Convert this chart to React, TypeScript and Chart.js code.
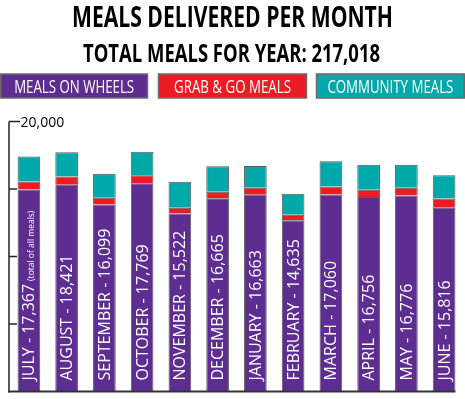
import React, { useEffect, useRef } from "react";
import { Chart, registerables } from "chart.js";

Chart.register(...registerables);

const TITLE = "MEALS DELIVERED PER MONTH";
const SUBTITLE = "TOTAL MEALS FOR YEAR: 217,018";
const SERIES_NAMES = ["MEALS ON WHEELS", "GRAB & GO MEALS", "COMMUNITY MEALS"];
const SERIES_COLORS = ["#5E2D91", "#ED1C24", "#00A9A9"];

const months = [
  "JULY", "AUGUST", "SEPTEMBER", "OCTOBER", "NOVEMBER", "DECEMBER",
  "JANUARY", "FEBRUARY", "MARCH", "APRIL", "MAY", "JUNE",
];
const monthTotals = [
  "17,367", "18,421", "16,099", "17,769", "15,522", "16,665",
  "16,663", "14,635", "17,060", "16,756", "16,776", "15,816",
];
const mealsOnWheels = [14970, 15320, 13860, 15420, 13180, 14310, 14580, 12680, 14600, 14400, 14510, 13620];
const grabAndGo = [590, 610, 500, 590, 440, 490, 520, 420, 590, 550, 590, 670];
const communityMeals = [1850, 1800, 1770, 1750, 1920, 1890, 1600, 1550, 1870, 1850, 1700, 1720];

const yTicks = [0, 5000, 10000, 15000, 20000];
const topTickLabel = "20,000";
const julyNote = "(total of all meals)";

const overlay = {
  id: "overlay",
  afterDraw(chart: any) {
    const { ctx } = chart;
    const x = chart.scales.x;
    const y = chart.scales.y;
    ctx.save();

    // Title & subtitle
    ctx.fillStyle = "#000";
    ctx.textAlign = "center";
    ctx.textBaseline = "alphabetic";
    ctx.font = 'bold 28px "Open Sans"';
    ctx.fillText(TITLE, 232.5, 27, 321);
    ctx.font = 'bold 25px "Open Sans"';
    ctx.fillText(SUBTITLE, 231.5, 61.5, 297);

    // Legend boxes
    const boxes = [
      [0.75, 147.5, 120],
      [158.5, 306.5, 117],
      [316.5, 464.25, 126],
    ];
    boxes.forEach((b, i) => {
      ctx.fillStyle = SERIES_COLORS[i];
      ctx.fillRect(b[0], 74, b[1] - b[0], 24);
      ctx.strokeStyle = "#6b6b6b";
      ctx.lineWidth = 1.5;
      ctx.strokeRect(b[0], 74, b[1] - b[0], 24);
      ctx.fillStyle = "#fff";
      ctx.font = '18px "Open Sans"';
      ctx.fillText(SERIES_NAMES[i], (b[0] + b[1]) / 2, 93, b[2]);
    });

    // Bar labels
    const meta = chart.getDatasetMeta(0);
    const y0 = y.getPixelForValue(0);
    months.forEach((m, i) => {
      const cx = x.getPixelForValue(i);
      ctx.save();
      ctx.translate(cx + 5.5, y0 - 11);
      ctx.rotate(-Math.PI / 2);
      ctx.textAlign = "left";
      ctx.fillStyle = "#fff";
      ctx.font = '16px "Open Sans"';
      const label = `${m} - ${monthTotals[i]}`;
      ctx.fillText(label, 0, 0);
      if (i === 0) {
        const w = ctx.measureText(label).width;
        ctx.font = '8.5px "Open Sans"';
        ctx.fillText(julyNote, w + 3, 0);
      }
      ctx.restore();
    });

    // Axes
    const last = meta.data[meta.data.length - 1];
    const xRight = last.x + last.width / 2;
    const axisX = 9;
    ctx.strokeStyle = "#222";
    ctx.lineWidth = 1.5;
    ctx.beginPath();
    ctx.moveTo(axisX, y.getPixelForValue(20000));
    ctx.lineTo(axisX, y0 + 1);
    ctx.stroke();
    yTicks.forEach((t) => {
      if (t === 0) return;
      const py = y.getPixelForValue(t);
      ctx.beginPath();
      ctx.moveTo(axisX, py);
      ctx.lineTo(t === 20000 ? 20 : 17, py);
      ctx.stroke();
    });
    ctx.strokeStyle = "#333";
    ctx.lineWidth = 2;
    ctx.beginPath();
    ctx.moveTo(axisX - 0.75, y0);
    ctx.lineTo(xRight, y0);
    ctx.stroke();

    ctx.fillStyle = "#000";
    ctx.textAlign = "left";
    ctx.font = '14px "Open Sans"';
    ctx.fillText(topTickLabel, 20.5, y.getPixelForValue(20000) + 5);

    ctx.restore();
  },
};

export default function App() {
  const ref = useRef<HTMLCanvasElement>(null);
  useEffect(() => {
    document.body.style.margin = "0";
    const canvas = ref.current!;
    const common = { borderColor: "#5a5a5a", borderWidth: 1, barPercentage: 0.6, categoryPercentage: 1 };
    const chart = new Chart(canvas, {
      type: "bar",
      data: {
        labels: months,
        datasets: [
          { label: SERIES_NAMES[0], data: mealsOnWheels, backgroundColor: SERIES_COLORS[0], ...common },
          { label: SERIES_NAMES[1], data: grabAndGo, backgroundColor: SERIES_COLORS[1], ...common },
          { label: SERIES_NAMES[2], data: communityMeals, backgroundColor: SERIES_COLORS[2], ...common },
        ],
      },
      options: {
        responsive: false,
        animation: false,
        devicePixelRatio: 1,
        layout: { padding: { left: 10, right: 2, top: 121.5, bottom: 7.5 } },
        scales: {
          x: { display: false, stacked: true },
          y: { display: false, stacked: true, min: 0, max: 20000 },
        },
        plugins: { legend: { display: false }, tooltip: { enabled: false }, title: { display: false } },
      },
      plugins: [overlay],
    });
    return () => chart.destroy();
  }, []);
  return (
    <div style={{ width: 465, height: 399 }}>
      <canvas ref={ref} width={465} height={399} />
    </div>
  );
}
